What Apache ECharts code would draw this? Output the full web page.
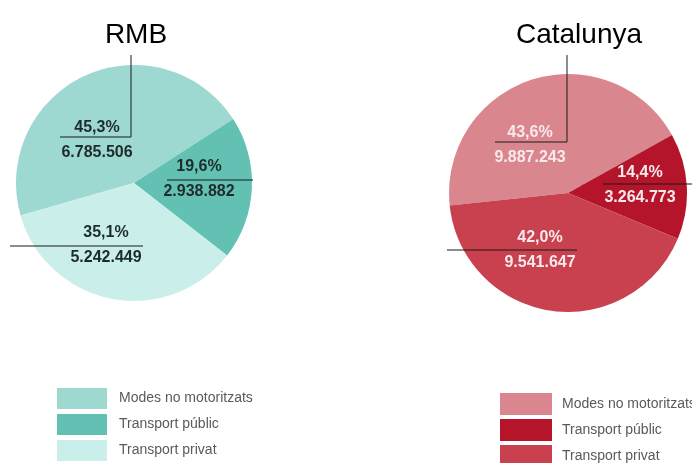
<!DOCTYPE html>
<html>
<head>
<meta charset="utf-8">
<script src="https://cdn.jsdelivr.net/npm/echarts@6/dist/echarts.min.js"></script>
<style>
html,body{margin:0;padding:0;background:#fff;}
#main{width:692px;height:463px;}
</style>
</head>
<body>
<div id="main"></div>
<script>
//dades
var categories = ['Modes no motoritzats', 'Transport públic', 'Transport privat'];
var rmbValues = [6785506, 2938882, 5242449];
var rmbPct = ['45,3%', '19,6%', '35,1%'];
var catValues = [9887243, 3264773, 9541647];
var catPct = ['43,6%', '14,4%', '42,0%'];

var rmbColors = ['#9dd9d0', '#62c1b3', '#caeeea'];
var catColors = ['#d9868f', '#b5152a', '#c9404f'];

//posicions de les etiquetes (no son dades)
var rmbLabelPos = [[97, 140], [199, 179], [106, 245]];
var catLabelPos = [[530, 145], [640, 185], [540, 250]];

function punts(v) {
	return String(v).replace(/\B(?=(\d{3})+(?!\d))/g, '.');
}

function fesDades(vals, cols) {
	return vals.map(function (v, i) {
		return {name: categories[i], value: v, itemStyle: {color: cols[i]}};
	});
}

var myChart = echarts.init(document.getElementById('main'));

var lineStyle = {stroke: '#1a1a1a', lineWidth: 1, fill: null};

var option = {
	animation: false,
	title: [
		{text: 'RMB', left: 131, top: 16, textAlign: 'center',
			textStyle: {fontFamily: 'Liberation Sans', fontSize: 28, fontWeight: 'normal', color: '#000'}},
		{text: 'Catalunya', left: 574, top: 16, textAlign: 'center',
			textStyle: {fontFamily: 'Liberation Sans', fontSize: 28, fontWeight: 'normal', color: '#000'}}
	],
	legend: [
		{
			orient: 'vertical', left: 57, top: 388, height: 120, itemWidth: 50, itemHeight: 21, itemGap: 5,
			icon: 'rect', padding: 0, selectedMode: false,
			textStyle: {fontFamily: 'Liberation Sans', fontSize: 14, color: '#5a5a5a', padding: [0, 0, 0, 7]},
			data: categories.map(function (c, i) { return {name: c, itemStyle: {color: rmbColors[i]}}; })
		},
		{
			orient: 'vertical', left: 500, top: 393, height: 120, itemWidth: 52, itemHeight: 22, itemGap: 4,
			icon: 'rect', padding: 0, selectedMode: false,
			textStyle: {fontFamily: 'Liberation Sans', fontSize: 14, color: '#5a5a5a', padding: [0, 0, 0, 5]},
			data: categories.map(function (c, i) { return {name: c, itemStyle: {color: catColors[i]}}; })
		}
	],
	series: [
		{
			name: 'RMB',
			type: 'pie',
			center: [134, 183],
			radius: 118,
			startAngle: 196,
			silent: true,
			data: fesDades(rmbValues, rmbColors),
			label: {
				position: 'inside',
				formatter: function (p) { return '{a|' + rmbPct[p.dataIndex] + '}\n{a|' + punts(p.value) + '}'; },
				rich: {a: {fontFamily: 'Liberation Sans', fontSize: 16, fontWeight: 'bold', color: '#1e2b2b', lineHeight: 25, align: 'center'}}
			},
			labelLayout: function (p) {
				var q = rmbLabelPos[p.dataIndex];
				return {x: q[0], y: q[1], align: 'center', verticalAlign: 'middle'};
			}
		},
		{
			name: 'Catalunya',
			type: 'pie',
			center: [568, 193],
			radius: 119,
			startAngle: 186,
			silent: true,
			data: fesDades(catValues, catColors),
			label: {
				position: 'inside',
				formatter: function (p) { return '{a|' + catPct[p.dataIndex] + '}\n{a|' + punts(p.value) + '}'; },
				rich: {a: {fontFamily: 'Liberation Sans', fontSize: 16, fontWeight: 'bold', color: '#f8eaec', lineHeight: 25, align: 'center'}}
			},
			labelLayout: function (p) {
				var q = catLabelPos[p.dataIndex];
				return {x: q[0], y: q[1], align: 'center', verticalAlign: 'middle'};
			}
		}
	],
	//linies d'anotacio
	graphic: [
		{type: 'polyline', z: 100, shape: {points: [[60, 137], [131, 137], [131, 55]]}, style: lineStyle},
		{type: 'polyline', z: 100, shape: {points: [[167, 180], [253, 180]]}, style: lineStyle},
		{type: 'polyline', z: 100, shape: {points: [[10, 246], [143, 246]]}, style: lineStyle},
		{type: 'polyline', z: 100, shape: {points: [[495, 142], [567, 142], [567, 55]]}, style: lineStyle},
		{type: 'polyline', z: 100, shape: {points: [[603, 184], [692, 184]]}, style: lineStyle},
		{type: 'polyline', z: 100, shape: {points: [[447, 250], [577, 250]]}, style: lineStyle}
	]
};

myChart.setOption(option);
</script>
</body>
</html>
